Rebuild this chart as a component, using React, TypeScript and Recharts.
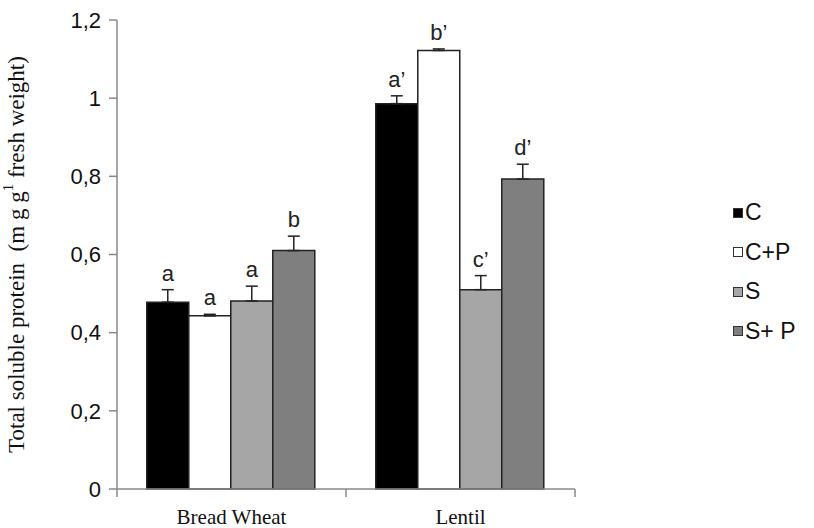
import { BarChart, Bar, XAxis, YAxis, Legend, ErrorBar, LabelList } from "recharts";

const crops = ["Bread Wheat", "Lentil"];
const treatments = ["C", "C+P", "S", "S+ P"];
const fills = ["#000000", "#ffffff", "#a6a6a6", "#7f7f7f"];

// mean values per treatment (bread wheat, lentil)
const cValues = [0.478, 0.986];
const cpValues = [0.443, 1.122];
const sValues = [0.481, 0.51];
const spValues = [0.61, 0.793];

// standard errors (upper only)
const cErrors = [0.032, 0.02];
const cpErrors = [0.004, 0.004];
const sErrors = [0.038, 0.036];
const spErrors = [0.037, 0.038];

// significance letters
const cLetters = ["a", "a\u2019"];
const cpLetters = ["a", "b\u2019"];
const sLetters = ["a", "c\u2019"];
const spLetters = ["b", "d\u2019"];

const yTicks = [0, 0.2, 0.4, 0.6, 0.8, 1, 1.2];

const seriesValues = [cValues, cpValues, sValues, spValues];
const seriesErrors = [cErrors, cpErrors, sErrors, spErrors];
const seriesLetters = [cLetters, cpLetters, sLetters, spLetters];

const W = 814;
const H = 528;
const MARGIN = { top: 20, right: 239, bottom: 0, left: 0 };
const Y_AXIS_W = 117;
const X_AXIS_H = 39;
const plotW = W - MARGIN.left - MARGIN.right - Y_AXIS_W;
const halfBand = plotW / crops.length / 2;

const sans = "'Liberation Sans', Arial, sans-serif";
const serif = "'Liberation Serif', 'Times New Roman', serif";
const axisColor = "#888888";

const data = crops.map((name, i) => {
  const row: Record<string, any> = { name };
  treatments.forEach((t, s) => {
    row["v" + s] = seriesValues[s][i];
    row["e" + s] = [0, seriesErrors[s][i]];
    row["l" + s] = seriesLetters[s][i];
  });
  return row;
});

function letterContent(s: number) {
  return (props: any) => {
    const { x, y, width, height, index, value } = props;
    const v = seriesValues[s][index];
    const errPx = (seriesErrors[s][index] * height) / v;
    return (
      <text
        x={x + width / 2}
        y={y - errPx - 9}
        textAnchor="middle"
        fontFamily={sans}
        fontSize={22}
        fill="#222"
      >
        {value}
      </text>
    );
  };
}

function CropTick(props: any) {
  const { x, y, payload, index } = props;
  return (
    <g>
      <line x1={x - halfBand} y1={y - 8} x2={x - halfBand} y2={y} stroke={axisColor} strokeWidth={1.5} />
      {index === crops.length - 1 && (
        <line x1={x + halfBand} y1={y - 8} x2={x + halfBand} y2={y} stroke={axisColor} strokeWidth={1.5} />
      )}
      <text x={x} y={y + 27} textAnchor="middle" fontFamily={serif} fontSize={21} fill="#111">
        {payload.value}
      </text>
    </g>
  );
}

function YLabel(props: any) {
  const { viewBox } = props;
  const cx = 16;
  const cy = viewBox.y + viewBox.height / 2;
  return (
    <text
      x={cx}
      y={cy}
      transform={`rotate(-90, ${cx}, ${cy})`}
      textAnchor="middle"
      dominantBaseline="central"
      fontFamily={serif}
      fontSize={23}
      fill="#111"
    >
      Total soluble protein{"\u00a0\u00a0"}(m g g
      <tspan dy={-8} fontSize={15}>1</tspan>
      <tspan dy={8}> fresh weight)</tspan>
    </text>
  );
}

function LegendBox() {
  return (
    <div style={{ fontFamily: sans, fontSize: 23, color: "#111" }}>
      {treatments.map((t, s) => (
        <div key={t} style={{ display: "flex", alignItems: "center", height: 39.5 }}>
          <span
            style={{
              display: "inline-block",
              width: 8,
              height: 8,
              background: fills[s],
              border: "1.5px solid #333",
              marginRight: 2,
            }}
          />
          <span>{t}</span>
        </div>
      ))}
    </div>
  );
}

export default function App() {
  return (
    <div style={{ position: "absolute", left: 0, top: 0, width: W, height: H, background: "#fff" }}>
      <BarChart width={W} height={H} data={data} margin={MARGIN} barCategoryGap="13%" barGap={0}>
        <XAxis
          dataKey="name"
          height={X_AXIS_H}
          axisLine={{ stroke: axisColor, strokeWidth: 1.5 }}
          tickLine={false}
          tick={<CropTick />}
          interval={0}
        />
        <YAxis
          width={Y_AXIS_W}
          domain={[0, 1.2]}
          ticks={yTicks}
          interval={0}
          tickSize={8}
          tickMargin={8}
          axisLine={{ stroke: axisColor, strokeWidth: 1.5 }}
          tickLine={{ stroke: axisColor, strokeWidth: 1.5 }}
          tick={{ fontFamily: sans, fontSize: 22, fill: "#111" }}
          tickFormatter={(v: number) => String(v).replace(".", ",")}
          label={<YLabel />}
        />
        <Legend
          layout="vertical"
          align="center"
          verticalAlign="middle"
          content={<LegendBox />}
          wrapperStyle={{ left: 733, top: 193, width: 80 }}
        />
        {treatments.map((t, s) => (
          <Bar
            key={t}
            dataKey={"v" + s}
            name={t}
            fill={fills[s]}
            stroke="#222"
            strokeWidth={1.5}
            isAnimationActive={false}
          >
            <ErrorBar dataKey={"e" + s} width={6} stroke="#222" strokeWidth={1.5} direction="y" />
            <LabelList dataKey={"l" + s} content={letterContent(s)} />
          </Bar>
        ))}
      </BarChart>
    </div>
  );
}
